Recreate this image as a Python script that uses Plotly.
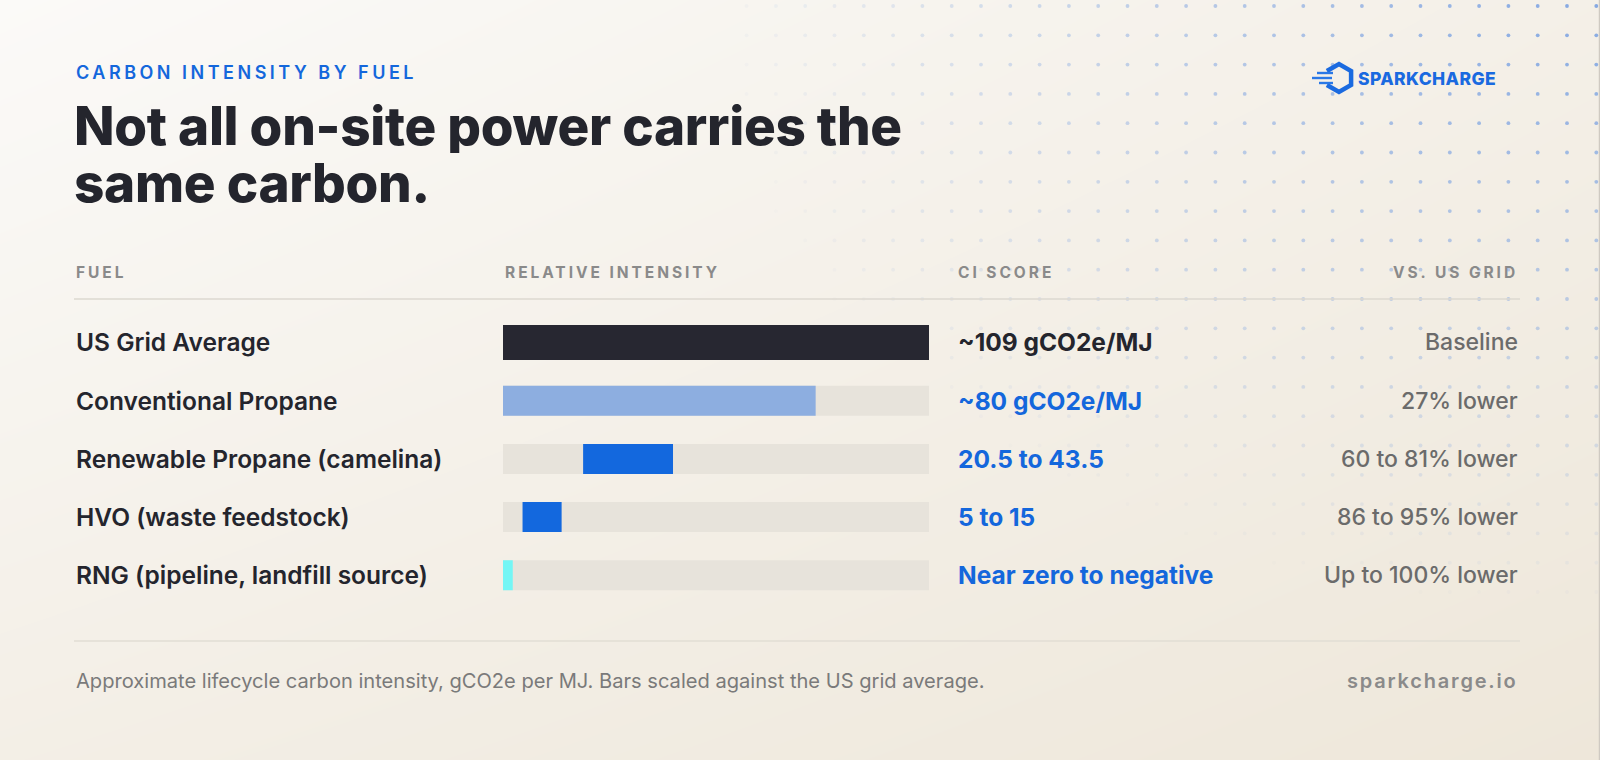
import numpy as np
import plotly.graph_objects as go

W, H = 1600, 760

# ---- data ----
GRID_CI = 109
fuels = ["US Grid Average", "Conventional Propane", "Renewable Propane (camelina)",
         "HVO (waste feedstock)", "RNG (pipeline, landfill source)"]
ci_low = [0, 0, 20.5, 5, 0]
ci_high = [109, 80, 43.5, 15, 2.5]
ci_labels = ["~109 gCO2e/MJ", "~80 gCO2e/MJ", "20.5 to 43.5", "5 to 15", "Near zero to negative"]
vs_grid = ["Baseline", "27% lower", "60 to 81% lower", "86 to 95% lower", "Up to 100% lower"]
headers = ["FUEL", "RELATIVE INTENSITY", "CI SCORE", "VS. US GRID"]

# ---- style ----
FONT = "Inter, 'Noto Sans', sans-serif"
INK, BLUE, GREY, MUTED = "#24252d", "#1467dc", "#6b6b6b", "#8a8a8a"
BAR_COLORS = ["#272731", "#8daee0", "#1368de", "#1368de", "#74f6f5"]
TRACK = "#e7e3db"
BAR_W = [0.6, 0.515, 0.515, 0.515, 0.515]
L, R = 74, 1520          # content edges, px
BAR_X0, BAR_X1 = 503, 929
CI_X = 956
ROW0, ROW_STEP = 342.5, 58.2


def px_y(p):
    return 1 - p / H


fig = go.Figure()

# background wash
fig.add_heatmap(x=[0, W], y=[0, H], z=[[0, 0.55], [0.6, 1]], zsmooth="best",
                colorscale=[[0, "#fbfaf8"], [1, "#eee7da"]], showscale=False,
                hoverinfo="skip", xaxis="x", yaxis="y")

# dot texture, fading out from the top-right corner
gx, gy = np.meshgrid(np.arange(1274 - 29.3 * 20, W, 29.3), np.arange(6, H, 29.3))
gx, gy = gx.ravel(), gy.ravel()
d = np.sqrt(((W - gx) / 900) ** 2 + (gy / 620) ** 2)
a = np.clip(1 - d, 0, 1) * 0.9
keep = a > 0.02
fig.add_scatter(x=gx[keep], y=gy[keep], mode="markers", hoverinfo="skip", showlegend=False,
                marker=dict(size=3.8, color=[f"rgba(120,160,225,{v:.2f})" for v in a[keep]]),
                xaxis="x", yaxis="y")

# bars: grey track, then the intensity band
fig.add_bar(y=fuels, x=[GRID_CI] * len(fuels), base=0, orientation="h", width=BAR_W,
            marker=dict(color=TRACK, line_width=0), hoverinfo="skip", xaxis="x2", yaxis="y2")
fig.add_bar(y=fuels, x=[h - l for l, h in zip(ci_low, ci_high)], base=ci_low, orientation="h",
            width=BAR_W, marker=dict(color=BAR_COLORS, line_width=0), hoverinfo="skip",
            xaxis="x2", yaxis="y2")

ann = []


def txt(x, y, s, size, color, weight=400, anchor="left", xref="x", yref="y", ls=None, h=None):
    if ls is not None:
        s = f"<span style='letter-spacing:{ls}px'>{s}</span>"
    a = dict(x=x, y=y, xref=xref, yref=yref, text=s, showarrow=False,
             xanchor=anchor, yanchor="middle", align=anchor,
             font=dict(family=FONT, size=size, color=color, weight=weight))
    if h:
        a["height"] = h
    ann.append(a)


# heading block
txt(L, 72, "CARBON INTENSITY BY FUEL", 18, BLUE, 600, ls=3.5)
txt(L - 2, 126, "Not all on-site power carries the", 53, INK, 800, ls=-0.3, h=54)
txt(L - 2, 183, "same carbon.", 53, INK, 800, ls=-0.3, h=54)

# logo
txt(1356, 78, "SPARKCHARGE", 17.5, "#1a6ae0", 800, ls=0.4)
hx, hy, hr = 1339, 78, 14
ang = np.deg2rad([150, 90, 30, -30, -90, -150])
pts = [(hx + hr * np.cos(t), hy - hr * np.sin(t)) for t in ang]
path = "M " + " L ".join(f"{px:.1f},{py:.1f}" for px, py in pts)
shapes = [dict(type="path", path=path, xref="x", yref="y",
               line=dict(color="#1a6ae0", width=4.5))]
for y0, xa, xb in [(73, 1317, 1333), (78, 1312, 1332), (83, 1319, 1333)]:
    shapes.append(dict(type="line", x0=xa, x1=xb, y0=y0, y1=y0, xref="x", yref="y",
                       line=dict(color="#2a78e6", width=2.4)))

# column headers
for s, x, anc in zip(headers, [L, BAR_X0, CI_X, R], ["left", "left", "left", "right"]):
    txt(x, 272, s, 15.5, MUTED, 700, anchor=anc, ls=2.95)
shapes.append(dict(type="line", x0=L, x1=R, y0=299, y1=299, xref="x", yref="y",
                   line=dict(color="#dcd8d0", width=1.6)))

# rows
for i, f in enumerate(fuels):
    txt(L / W, f, f, 24.5, INK, 600, xref="paper", yref="y2")
    txt(CI_X / W, f, ci_labels[i], 24.5, INK if i == 0 else BLUE, 700, xref="paper", yref="y2")
    txt(R / W, f, vs_grid[i], 23, GREY, 500, anchor="right", xref="paper", yref="y2")

# footer
shapes.append(dict(type="line", x0=L, x1=R, y0=641, y1=641, xref="x", yref="y",
                   line=dict(color="#e2ded5", width=1.6)))
txt(L, 681, "Approximate lifecycle carbon intensity, gCO2e per MJ. Bars scaled against the US grid average.",
    20.1, "#7a7a7a", 400)
txt(R, 681, "sparkcharge.io", 20, MUTED, 600, anchor="right", ls=1.8)
shapes.append(dict(type="line", x0=W - 0.5, x1=W - 0.5, y0=0, y1=H, xref="x", yref="y",
                   line=dict(color="#cfcac2", width=1.5)))

n = len(fuels)
top = ROW0 - ROW_STEP / 2
bot = ROW0 + ROW_STEP * (n - 0.5)
hidden = dict(visible=False, showgrid=False, zeroline=False, fixedrange=True)
fig.update_layout(
    width=W, height=H, margin=dict(l=0, r=0, t=0, b=0), showlegend=False,
    paper_bgcolor="#f7f4ee", plot_bgcolor="rgba(0,0,0,0)", barmode="overlay",
    xaxis=dict(range=[0, W], domain=[0, 1], **hidden),
    yaxis=dict(range=[H, 0], domain=[0, 1], **hidden),
    xaxis2=dict(range=[0, GRID_CI], domain=[BAR_X0 / W, BAR_X1 / W], anchor="y2", **hidden),
    yaxis2=dict(type="category", categoryorder="array", categoryarray=fuels,
                range=[n - 0.5, -0.5], domain=[px_y(bot), px_y(top)], anchor="x2", **hidden),
    annotations=ann, shapes=shapes,
)

fig.write_html("out.html", config={"displayModeBar": False},
               post_script="document.body.style.margin='0';document.body.style.overflow='hidden';")
